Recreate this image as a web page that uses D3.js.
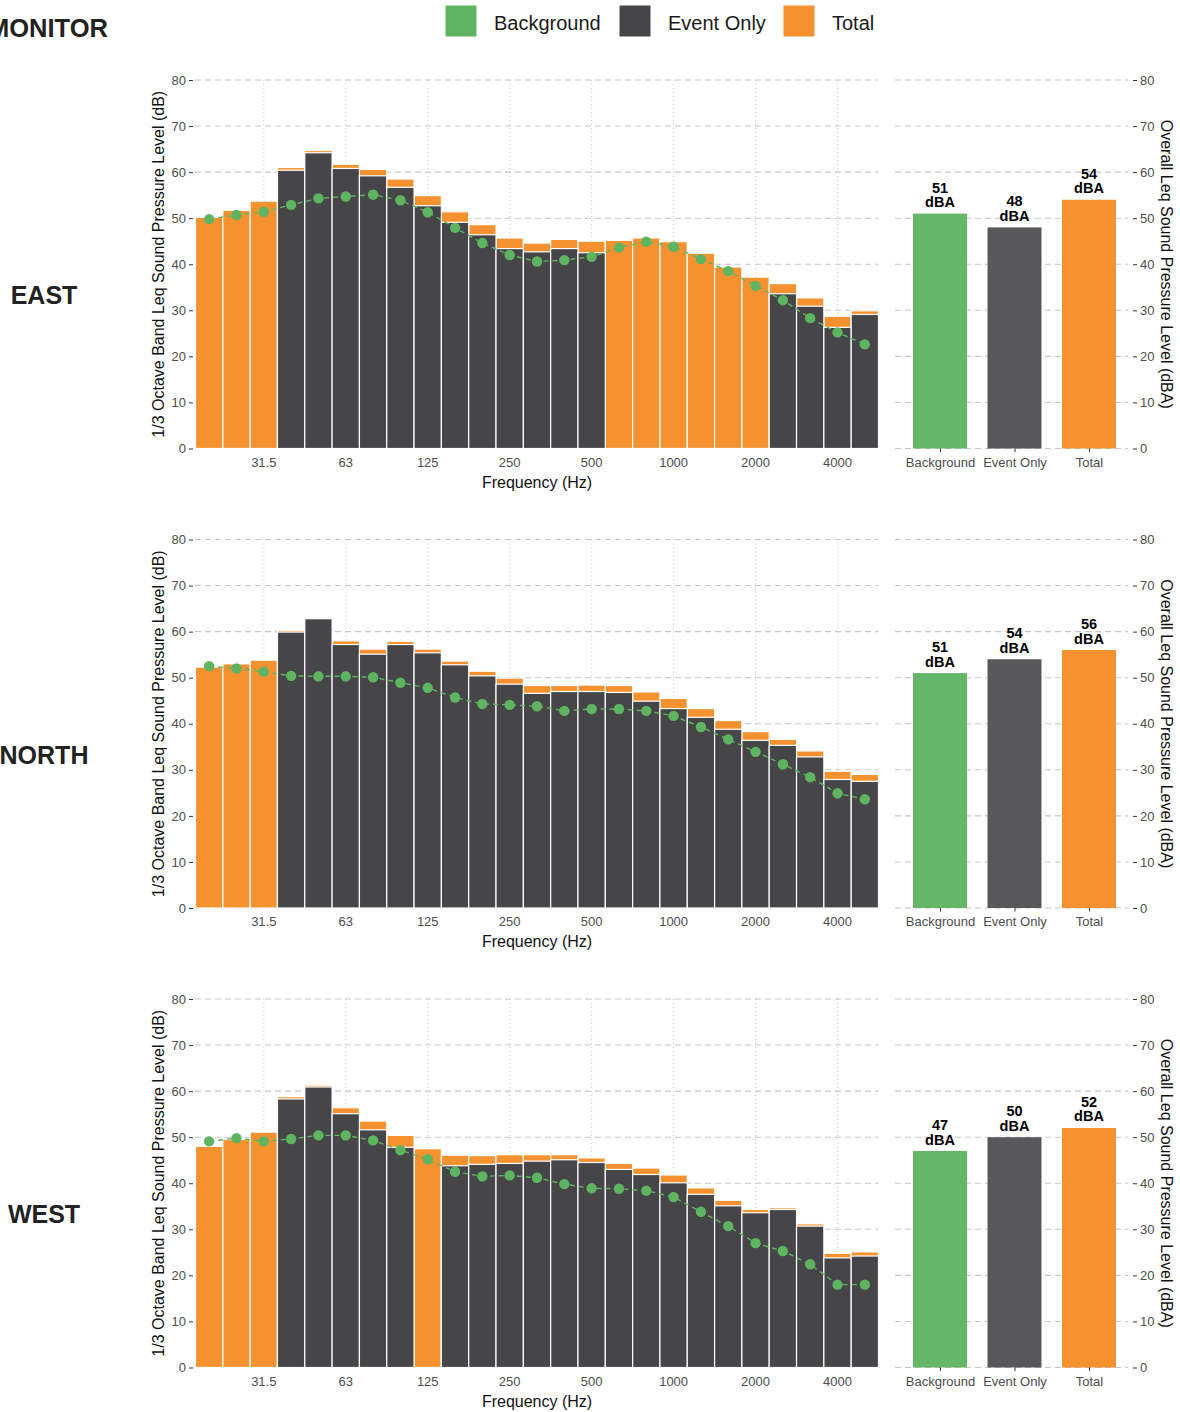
<!DOCTYPE html>
<html><head><meta charset="utf-8">
<script src="https://cdn.jsdelivr.net/npm/d3@7"></script>
<style>
body{margin:0;background:#fff}
svg{display:block}
text{font-family:"Liberation Sans",Arial,Helvetica,sans-serif}
</style>
</head><body>
<svg id="c" width="1180" height="1412"></svg>
<script>
// ---------- DATA ----------
const bands = ["20","25","31.5","40","50","63","80","100","125","160","200","250","315","400","500","630","800","1000","1250","1600","2000","2500","3150","4000","5000"];
const tickLabels = ["31.5","63","125","250","500","1000","2000","4000"];
const yTicks = [0,10,20,30,40,50,60,70,80];
const panelNames = ["EAST","NORTH","WEST"];
const overallCategories = ["Background","Event Only","Total"];
const legendLabels = ["Background","Event Only","Total"];

const eastTotal = [50.2,51.7,53.7,61.0,64.7,61.7,60.6,58.5,54.9,51.4,48.6,45.7,44.6,45.4,45.0,45.2,45.7,44.9,42.4,39.4,37.2,35.8,32.7,28.7,29.9];
const eastEvent = [null,null,null,60.4,64.2,60.8,59.2,56.7,52.7,49.1,46.4,43.4,42.7,43.4,42.5,null,null,null,null,null,null,33.6,30.9,26.3,29.1];
const eastBackground = [49.8,50.7,51.4,52.9,54.3,54.7,55.1,53.9,51.3,47.9,44.6,42.0,40.6,40.9,41.6,43.6,44.9,43.8,41.1,38.5,35.3,32.2,28.3,25.2,22.6];
const eastOverall = [51,48,54];

const northTotal = [52.3,53.0,53.8,60.3,62.9,58.0,56.2,57.9,56.2,53.6,51.4,49.9,48.3,48.3,48.4,48.3,46.9,45.5,43.3,40.7,38.3,36.6,34.1,29.7,29.0];
const northEvent = [null,null,null,59.9,62.8,57.2,55.1,57.2,55.4,52.8,50.4,48.6,46.6,47.0,47.0,46.8,44.9,43.3,41.4,38.8,36.4,35.3,32.8,27.9,27.5];
const northBackground = [52.5,52.0,51.3,50.4,50.3,50.3,50.1,48.9,47.8,45.7,44.3,44.1,43.8,42.8,43.2,43.2,42.8,41.7,39.3,36.6,33.9,31.2,28.4,24.9,23.6];
const northOverall = [51,54,56];

const westTotal = [48.0,49.5,51.1,58.8,61.3,56.4,53.5,50.4,47.5,46.1,46.0,46.2,46.2,46.2,45.5,44.3,43.3,41.8,39.0,36.3,34.3,34.7,31.2,24.8,25.1];
const westEvent = [null,null,null,58.3,60.9,55.1,51.6,47.8,null,43.8,44.1,44.3,44.8,45.1,44.5,43.0,41.9,40.1,37.6,35.1,33.6,34.3,30.7,23.8,24.2];
const westBackground = [49.1,49.8,49.1,49.6,50.4,50.4,49.3,47.2,45.2,42.5,41.5,41.7,41.2,39.8,38.9,38.8,38.4,37.0,33.8,30.7,27.0,25.3,22.4,18.0,18.0];
const westOverall = [47,50,52];

// ---------- DRAW ----------
const C = {green:"#5fb462", greenBar:"#65b668", dark:"#464648", darkBar:"#58585a", orange:"#f5922f",
           grid:"#c6c6c6", tick:"#4d4d4d"};
const svg = d3.select("#c");

const panels = [
  {name:panelNames[0], total:eastTotal, event:eastEvent, bg:eastBackground, overall:eastOverall},
  {name:panelNames[1], total:northTotal, event:northEvent, bg:northBackground, overall:northOverall},
  {name:panelNames[2], total:westTotal, event:westEvent, bg:westBackground, overall:westOverall}
];

const x = d3.scaleBand().domain(bands).range([195.5, 878.5]).padding(0);
const xc = b => x(b) + x.bandwidth()/2;
const xo = d3.scalePoint().domain(overallCategories).range([940, 1089]);
const obw = 54;
const overallColors = [C.greenBar, C.darkBar, C.orange];

// top title (cut off at left edge, as in the original)
svg.append("text").attr("x",-12).attr("y",37).attr("text-anchor","start")
  .attr("font-size",25.5).attr("font-weight","bold").attr("fill","#222").text("MONITOR");

// legend
const legX = [445, 619, 783];
const legC = [C.green, C.dark, C.orange];
legendLabels.forEach((l,i)=>{
  svg.append("rect").attr("x",legX[i]).attr("y",5).attr("width",32).attr("height",32)
    .attr("fill",legC[i]).attr("stroke","#fff").attr("stroke-width",1);
  svg.append("text").attr("x",legX[i]+49).attr("y",30).attr("font-size",20).attr("fill","#1a1a1a").text(l);
});

panels.forEach((p,i)=>{
  const top = 80 + i*459.5, bottom = top + 368.5;
  const y = d3.scaleLinear().domain([0,80]).range([bottom, top]);
  const g = svg.append("g");

  // horizontal grid (left panel)
  g.append("g").selectAll("line").data(yTicks).join("line")
    .attr("x1",195).attr("x2",878.5).attr("y1",d=>y(d)).attr("y2",d=>y(d))
    .attr("stroke",C.grid).attr("stroke-width",1.1).attr("stroke-dasharray","6,4");
  // vertical grid
  g.append("g").selectAll("line").data(tickLabels).join("line")
    .attr("x1",d=>xc(d)).attr("x2",d=>xc(d)).attr("y1",top).attr("y2",bottom)
    .attr("stroke",C.grid).attr("stroke-width",1).attr("stroke-dasharray","1,3");
  // horizontal grid (right panel)
  g.append("g").selectAll("line").data(yTicks).join("line")
    .attr("x1",895).attr("x2",1128).attr("y1",d=>y(d)).attr("y2",d=>y(d))
    .attr("stroke",C.grid).attr("stroke-width",1.1).attr("stroke-dasharray","6,4");

  // total bars
  g.append("g").selectAll("rect").data(bands).join("rect")
    .attr("x",d=>x(d)).attr("width",x.bandwidth())
    .attr("y",(d,j)=>y(p.total[j])).attr("height",(d,j)=>bottom - y(p.total[j]))
    .attr("fill",C.orange).attr("stroke","#fff").attr("stroke-width",1.2);
  // event bars
  const evIdx = bands.map((b,j)=>j).filter(j=>p.event[j]!==null);
  g.append("g").selectAll("rect").data(evIdx).join("rect")
    .attr("x",j=>x(bands[j])).attr("width",x.bandwidth())
    .attr("y",j=>y(p.event[j])).attr("height",j=>bottom - y(p.event[j]))
    .attr("fill",C.dark).attr("stroke","#fff").attr("stroke-width",1.2);

  // background line + points
  const line = d3.line().x((v,j)=>xc(bands[j])).y(v=>y(v));
  g.append("path").datum(p.bg).attr("d",line).attr("fill","none")
    .attr("stroke",C.green).attr("stroke-width",1.4).attr("stroke-dasharray","5,4");
  g.append("g").selectAll("circle").data(p.bg).join("circle")
    .attr("cx",(v,j)=>xc(bands[j])).attr("cy",v=>y(v)).attr("r",5.2).attr("fill",C.green);

  // left y axis
  const ay = g.append("g").attr("transform","translate(193,0)")
    .call(d3.axisLeft(y).tickValues(yTicks).tickSize(4).tickPadding(3));
  ay.select(".domain").remove();
  ay.selectAll("line").attr("stroke","#333");
  ay.selectAll("text").attr("font-size",13).attr("fill",C.tick).attr("font-family",null);

  // bottom x axis
  const ax = g.append("g").attr("transform",`translate(0,${bottom})`)
    .call(d3.axisBottom(x).tickValues(tickLabels).tickSize(0).tickPadding(9));
  ax.select(".domain").remove();
  ax.selectAll("text").attr("font-size",13).attr("fill",C.tick).attr("font-family",null);

  // overall bars
  g.append("g").selectAll("rect").data(overallCategories).join("rect")
    .attr("x",d=>xo(d)-obw/2).attr("width",obw)
    .attr("y",(d,j)=>y(p.overall[j])).attr("height",(d,j)=>bottom - y(p.overall[j]))
    .attr("fill",(d,j)=>overallColors[j]);
  // value labels (two lines: value, unit)
  g.append("g").selectAll("text").data(overallCategories).join("text")
    .attr("x",d=>xo(d)).attr("y",(d,j)=>y(p.overall[j]) - 21)
    .attr("text-anchor","middle").attr("font-size",14.5).attr("font-weight","bold").attr("fill","#000")
    .text((d,j)=>p.overall[j]);
  g.append("g").selectAll("text").data(overallCategories).join("text")
    .attr("x",d=>xo(d)).attr("y",(d,j)=>y(p.overall[j]) - 6.5)
    .attr("text-anchor","middle").attr("font-size",14.5).attr("font-weight","bold").attr("fill","#000")
    .text("dBA");

  // overall x axis
  const axo = g.append("g").attr("transform",`translate(0,${bottom})`)
    .call(d3.axisBottom(xo).tickSize(3.5).tickPadding(5.5));
  axo.select(".domain").remove();
  axo.selectAll("line").attr("stroke","#333");
  axo.selectAll("text").attr("font-size",13).attr("fill",C.tick).attr("font-family",null);

  // right y axis
  const ayr = g.append("g").attr("transform","translate(1133,0)")
    .call(d3.axisRight(y).tickValues(yTicks).tickSize(4).tickPadding(3));
  ayr.select(".domain").remove();
  ayr.selectAll("line").attr("stroke","#333");
  ayr.selectAll("text").attr("font-size",13).attr("fill",C.tick).attr("font-family",null);

  // titles
  const mid = (top+bottom)/2;
  g.append("text").attr("transform",`translate(164,${mid}) rotate(-90)`).attr("text-anchor","middle")
    .attr("font-size",16).attr("fill","#111").text("1/3 Octave Band Leq Sound Pressure Level (dB)");
  g.append("text").attr("transform",`translate(1161,${mid}) rotate(90)`).attr("text-anchor","middle")
    .attr("font-size",16).attr("fill","#111").text("Overall Leq Sound Pressure Level (dBA)");
  g.append("text").attr("x",(195.5+878.5)/2).attr("y",bottom+39).attr("text-anchor","middle")
    .attr("font-size",16).attr("fill","#111").text("Frequency (Hz)");

  // panel label
  g.append("text").attr("x",44).attr("y",top+224).attr("text-anchor","middle")
    .attr("font-size",25).attr("font-weight","bold").attr("fill","#222").text(p.name);
});
</script>
</body></html>
